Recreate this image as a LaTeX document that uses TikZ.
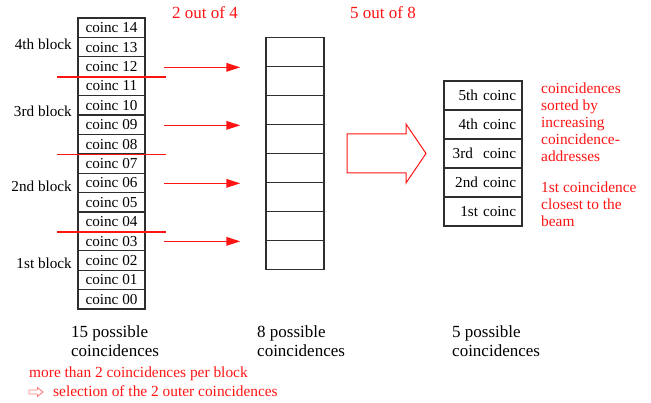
\documentclass[tikz,border=0pt]{standalone}
\usepackage{fontspec}
\setmainfont{Liberation Serif}
\usetikzlibrary{arrows.meta}
\definecolor{boxline}{HTML}{2E2E2E}
\definecolor{mark}{HTML}{FF1414}
\tikzset{
  cellbase/.style={draw=boxline, line width=1.3pt, inner sep=0pt},
  cellL/.style={cellbase, minimum width=67pt, minimum height=19.4pt,
    font=\fontsize{15.2}{17}\selectfont},
  cellM/.style={cellbase, minimum width=58pt, minimum height=29pt},
  cellR/.style={cellbase, minimum width=78pt, minimum height=29pt,
    text width=66pt, align=right, font=\fontsize{15.2}{17}\selectfont},
  blocklabel/.style={anchor=base east, inner sep=0pt, font=\fontsize{15.2}{17}\selectfont},
  caption/.style={anchor=base west, inner sep=0pt, font=\fontsize{17}{19}\selectfont},
  title/.style={anchor=base west, inner sep=0pt, text=mark, font=\fontsize{17}{19}\selectfont},
  note/.style={anchor=base west, inner sep=0pt, text=mark, font=\fontsize{15.4}{17}\selectfont},
  divider/.style={draw=mark, line width=1.5pt},
  pick/.style={draw=mark, line width=1.6pt, -{Triangle[length=14pt,width=8.5pt]}},
  bigarrow/.style={draw=mark, line width=1pt},
}
\begin{document}
\begin{tikzpicture}[x=1pt,y=-1pt]
\useasboundingbox[fill=white] (0,0) rectangle (651,403);

% 15 possible coincidences, coinc 14 at the top
\foreach \i [evaluate=\i as \n using int(14-\i)] in {0,...,14}
  \node[cellL] (L\n) at (111.5,{27.7+19.4*\i}) {coinc \ifnum\n<10 0\fi\n};

% block names
\node[blocklabel] (b4) at (72,50)  {4th block};
\node[blocklabel] (b3) at (72,117) {3rd block};
\node[blocklabel] (b2) at (72,192) {2nd block};
\node[blocklabel] (b1) at (72,269) {1st block};

% block boundaries
\foreach \c in {12,8,4}
  \draw[divider] ([xshift=-20pt]L\c.south west) -- ([xshift=20pt]L\c.south east);

% 8 possible coincidences
\foreach \i in {0,...,7}
  \node[cellM] (M\i) at (295,{52.2+29*\i}) {};

% selection arrows, two per block
\foreach \i in {0,2,4,6} {
  \coordinate (s\i) at ([xshift=-101pt]M\i.south west);
  \coordinate (e\i) at ([xshift=-25pt]M\i.south west);
  \draw[pick] (s\i) -- (e\i);
}

% 5 possible coincidences
\node[cellR] (R5) at (483,95.5)  {5th coinc};
\node[cellR] (R4) at (483,124.5) {4th coinc};
\node[cellR] (R3) at (483,153.5) {3rd\ \ coinc};
\node[cellR] (R2) at (483,182.5) {2nd coinc};
\node[cellR] (R1) at (483,211.5) {1st coinc};

% hollow arrow between the stages
\draw[bigarrow] (347,134) -- (406,134) -- (406,124) -- (426,153.5)
  -- (406,183) -- (406,173) -- (347,173) -- cycle;

% stage titles
\node[title] (t1) at (172,19) {2 out of 4};
\node[title] (t2) at (350,19) {5 out of 8};

% notes on the sorting
\node[note] (n1) at (541,94)    {coincidences};
\node[note] (n2) at (541,111)   {sorted by};
\node[note] (n3) at (541,128)   {increasing};
\node[note] (n4) at (541,145)   {coincidence-};
\node[note] (n5) at (541,162)   {addresses};
\node[note] (n6) at (541,193)   {1st coincidence};
\node[note] (n7) at (541,210)   {closest to the};
\node[note] (n8) at (541,227)   {beam};

% stage captions
\node[caption] (c1a) at (71,338)  {15 possible};
\node[caption] (c1b) at (71,357)  {coincidences};
\node[caption] (c2a) at (257,338) {8 possible};
\node[caption] (c2b) at (257,357) {coincidences};
\node[caption] (c3a) at (452,338) {5 possible};
\node[caption] (c3b) at (452,357) {coincidences};

% rule for crowded blocks
\node[note] (r1) at (29,378) {more than 2 coincidences per block};
\draw[draw=mark!55, line width=0.9pt] (29,390) -- (37.5,390) -- (37.5,387.5) -- (43,392)
  -- (37.5,396.5) -- (37.5,394) -- (29,394) -- cycle;
\node[note] (r2) at (53,396) {selection of the 2 outer coincidences};
\end{tikzpicture}
\end{document}
